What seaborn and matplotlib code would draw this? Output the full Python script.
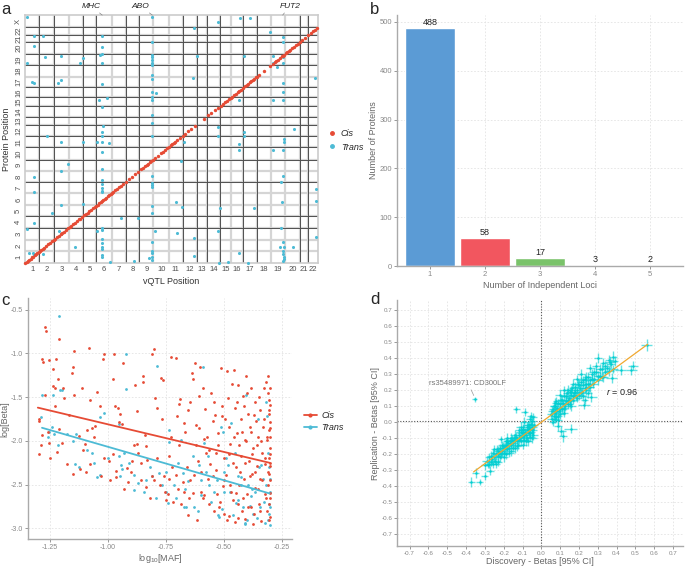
import numpy as np
import pandas as pd
import matplotlib
matplotlib.use("Agg")
from matplotlib import pyplot as plt
from matplotlib.lines import Line2D
import seaborn as sns

# ---------------- panel a: genomic positions (arbitrary genome units) ----------------
chrom_sizes = [14.3, 14.5, 15, 14.3, 13.2, 15, 14, 13.8, 14, 15.5, 13.8, 13.8, 10,
               13.3, 10.8, 12.5, 13.3, 13.8, 14.5, 14.5, 8.7, 9.6]
chrx_size = 15
x_chrom_labels = [str(i) for i in range(1, 23)]
y_chrom_labels = [str(i) for i in range(1, 23)] + ["X"]
# which internal chromosome boundaries are drawn dark (1) or only light (0)
x_dark = [1, 1, 0, 1, 1, 0, 1, 1, 0, 0, 1, 1, 1, 1, 0, 1, 1, 0, 0, 1, 1]
y_dark = [0, 0, 1, 1, 0, 0, 1, 0, 1, 1, 1, 1, 1, 1, 1, 1, 0, 1, 1, 1, 1, 1]

cis_pos = [0, 1.5, 3, 4, 5.5, 7, 8, 9.5, 11, 12, 13.5, 15, 16, 17.5, 19, 21, 23, 25, 27,
           28.5, 30, 32, 34, 36, 37, 39, 41, 43, 44.5, 46, 48, 50, 52, 54, 55, 57, 59, 61,
           62.5, 64, 66, 68, 70, 71, 72.5, 74, 75.5, 77, 78, 79.5, 81, 82.5, 84, 85.5, 87,
           88, 90, 92, 94, 96, 98, 101, 104, 107, 110, 113, 116, 118, 120, 121.5, 123, 125,
           126, 128, 130, 133, 136, 138, 140, 142, 144, 146, 147, 148.5, 150, 152, 155, 158,
           160, 163, 166, 170, 179, 183, 186, 189, 192, 195, 197, 199, 201, 203, 205, 206,
           208, 210, 212, 213, 215, 217, 219, 221, 222, 224, 225, 227, 228, 230, 231, 233,
           238, 244, 247, 249, 250, 252, 254, 256, 257, 258, 260, 261, 263, 264, 266, 268,
           270, 272, 274, 276, 279, 282, 285, 287, 289, 291]

trans_pairs = [(2, 305), (127, 305), (192, 299), (214, 304), (224, 304), (169, 291), (244, 286),
               (9, 281), (18, 281), (77, 281), (257, 280), (257, 274), (127, 274), (9, 269),
               (77, 268), (77, 259), (75, 258), (127, 258), (172, 257), (218, 257), (247, 257),
               (257, 255), (20, 255), (36, 257), (58, 254), (127, 255), (127, 252), (2, 248),
               (55, 248), (77, 248), (127, 248), (247, 248), (257, 248), (251, 243), (127, 246),
               (127, 233), (127, 228), (168, 229), (36, 227), (7, 224), (9, 223), (33, 223),
               (77, 222), (289, 229), (257, 223), (127, 212), (131, 211), (257, 212), (82, 205),
               (74, 202), (127, 206), (127, 202), (213, 202), (247, 202), (257, 202), (77, 193),
               (127, 184), (78, 170), (127, 174), (192, 169), (268, 166), (77, 162), (77, 157),
               (22, 157), (127, 157), (192, 157), (218, 162), (218, 157), (36, 150), (58, 150),
               (72, 150), (77, 150), (84, 149), (159, 150), (258, 154), (258, 150), (213, 148),
               (77, 138), (213, 140), (247, 140), (257, 140), (43, 123), (156, 126), (36, 114),
               (77, 117), (9, 107), (127, 108), (257, 108), (77, 103), (255, 100), (127, 99),
               (77, 98), (127, 97), (127, 94), (77, 93), (77, 89), (77, 88), (9, 88), (290, 92),
               (290, 77), (151, 76), (256, 76), (58, 73), (36, 72), (127, 71), (157, 69),
               (194, 68), (228, 68), (27, 62), (127, 62), (96, 56), (113, 56), (9, 50), (2, 42),
               (77, 43), (77, 41), (72, 40), (34, 40), (130, 40), (152, 37), (192, 40), (255, 43),
               (36, 36), (127, 26), (169, 31), (77, 30), (77, 25), (50, 20), (257, 26), (254, 20),
               (258, 20), (267, 20), (290, 32), (77, 20), (77, 17), (127, 15), (127, 12), (4, 12),
               (8, 12), (9, 10), (18, 11), (213, 12), (257, 15), (257, 11), (258, 7), (169, 9),
               (77, 10), (77, 7), (127, 7), (124, 6), (258, 5), (127, 4), (85, 1), (109, 2),
               (193, 0), (202, 1), (222, 0), (257, 2)]

hotspots = ["MHC", "ABO", "FUT2"]
hotspot_pos = [77, 127, 257]
hotspot_text_pos = [66, 115, 264]

# ---------------- panel b ----------------
loci = ["1", "2", "3", "4", "5"]
n_proteins = [488, 58, 17, 3, 2]
bar_colors = ["#5B9BD5", "#F2565F", "#7AC36A", "#9B5FC0", "#F7B27A"]

# ---------------- panel c: log10 MAF vs log beta ----------------
cis_c = [(-1.272, -0.70), (-1.267, -0.75), (-1.21, -0.84), (-1.286, -1.07), (-1.279, -1.10),
         (-1.253, -1.08), (-1.236, -1.18), (-1.224, -1.06), (-1.146, -0.97), (-1.084, -0.94),
         (-1.016, -1.01), (-0.975, -1.01), (-0.809, -1.01), (-0.802, -0.95), (-0.73, -1.04),
         (-0.708, -1.05), (-0.626, -1.11), (-1.236, -1.375), (-1.228, -1.39), (-1.27, -1.48),
         (-1.296, -1.77), (-1.298, -2.15), (-1.29, -2.05), (-1.286, -1.93), (-1.253, -2.02),
         (-1.25, -2.19), (-1.221, -2.13), (-1.2, -2.02), (-1.21, -1.86), (-1.192, -1.51),
         (-1.195, -1.40), (-1.218, -1.29), (-1.178, -2.265), (-1.15, -2.375), (-1.12, -2.32),
         (-1.094, -2.35), (-1.077, -2.265), (-1.091, -1.88), (-1.069, -1.85), (-1.055, -1.83),
         (-1.048, -1.44), (-1.077, -1.53), (-1.113, -1.40), (-1.146, -1.47), (-1.156, -1.22),
         (-1.151, -1.16), (-1.098, -2.04), (-1.124, -1.94), (-1.033, -1.60), (-1.022, -1.06),
         (-1.019, -2.20), (-0.997, -2.23), (-0.99, -2.45), (-0.968, -2.34), (-0.964, -2.41),
         (-0.978, -1.29), (-0.972, -1.60), (-0.958, -1.62), (-0.954, -1.78), (-0.939, -1.81),
         (-0.947, -1.69), (-0.935, -1.11), (-0.92, -2.31), (-0.915, -2.47), (-0.903, -2.36),
         (-0.896, -2.23), (-0.882, -1.36), (-0.874, -1.66), (-0.877, -2.04), (-0.871, -2.14),
         (-0.86, -2.25), (-0.848, -1.26), (-0.848, -1.33), (-0.842, -1.93), (-0.838, -2.06),
         (-0.835, -2.53), (-0.831, -2.22), (-0.809, -2.40), (-0.802, -2.45), (-0.799, -1.51),
         (-0.788, -1.62), (-0.776, -2.50), (-0.773, -1.28), (-0.762, -1.30), (-0.766, -1.75),
         (-0.756, -2.58), (-0.751, -2.67), (-0.744, -2.61), (-0.737, -2.43), (-0.737, -2.17),
         (-0.73, -1.95), (-0.723, -2.30), (-0.708, -2.39), (-0.704, -1.71), (-0.694, -1.58),
         (-0.689, -1.52), (-0.679, -2.47), (-0.672, -2.58), (-0.668, -1.90), (-0.657, -1.65),
         (-0.65, -2.65), (-0.646, -2.45), (-0.64, -1.22), (-0.636, -1.29), (-0.629, -2.39),
         (-0.621, -1.82), (-0.614, -2.23), (-0.607, -1.49), (-0.603, -1.16), (-0.60, -2.58),
         (-0.592, -2.65), (-0.588, -1.98), (-0.582, -1.64), (-0.578, -2.14), (-0.571, -2.43),
         (-0.564, -2.72), (-0.559, -2.26), (-0.549, -1.77), (-0.545, -1.56), (-0.542, -2.80),
         (-0.535, -2.14), (-0.530, -2.61), (-0.527, -1.91), (-0.52, -2.76), (-0.513, -1.17),
         (-0.51, -1.71), (-0.506, -2.52), (-0.501, -2.20), (-0.499, -2.83), (-0.491, -2.39),
         (-0.487, -1.20), (-0.484, -1.51), (-0.481, -2.86), (-0.477, -1.84), (-0.473, -2.04),
         (-0.47, -2.58), (-0.462, -2.67), (-0.458, -1.19), (-0.455, -2.93), (-0.452, -1.62),
         (-0.448, -2.30), (-0.444, -1.91), (-0.441, -2.72), (-0.438, -1.36), (-0.434, -2.50),
         (-0.429, -1.75), (-0.426, -2.17), (-0.423, -2.80), (-0.419, -1.49), (-0.415, -2.43),
         (-0.412, -1.99), (-0.409, -2.89), (-0.405, -1.26), (-0.40, -2.61), (-0.397, -1.69),
         (-0.394, -2.23), (-0.39, -1.84), (-0.386, -2.76), (-0.383, -1.40), (-0.38, -2.38),
         (-0.376, -2.08), (-0.371, -2.83), (-0.368, -1.55), (-0.366, -2.54), (-0.361, -1.77),
         (-0.357, -2.29), (-0.354, -1.95), (-0.351, -2.72), (-0.347, -1.65), (-0.344, -2.43),
         (-0.34, -2.91), (-0.337, -2.14), (-0.332, -1.84), (-0.328, -1.40), (-0.325, -2.61),
         (-0.322, -2.26), (-0.318, -1.33), (-0.315, -2.80), (-0.314, -1.99), (-0.311, -1.26),
         (-0.311, -2.50), (-0.308, -1.69), (-0.308, -2.20), (-0.306, -1.53), (-0.306, -1.88),
         (-0.305, -2.38), (-0.305, -2.72), (-0.304, -2.87), (-0.304, -2.08), (-0.304, -1.78),
         (-0.304, -1.59), (-0.304, -2.59), (-0.304, -2.29), (-0.304, -1.95),
         (-0.62, -2.05), (-0.61, -1.85), (-0.598, -2.35), (-0.59, -1.40), (-0.585, -2.62),
         (-0.575, -1.95), (-0.565, -2.10), (-0.555, -1.45), (-0.55, -2.40), (-0.54, -1.70),
         (-0.533, -2.33), (-0.525, -2.05), (-0.517, -2.70), (-0.508, -1.60), (-0.50, -2.45),
         (-0.495, -1.75), (-0.489, -2.90), (-0.48, -2.15), (-0.475, -2.50), (-0.468, -1.35),
         (-0.463, -2.25), (-0.457, -1.95), (-0.45, -2.60), (-0.446, -1.55), (-0.44, -2.88),
         (-0.435, -2.05), (-0.43, -2.35), (-0.425, -1.90), (-0.42, -2.65), (-0.415, -1.60),
         (-0.41, -2.25), (-0.405, -2.00), (-0.40, -1.45), (-0.395, -2.75), (-0.39, -2.40),
         (-0.385, -1.90), (-0.38, -2.15), (-0.375, -2.95), (-0.37, -1.70), (-0.365, -2.35),
         (-0.36, -2.05), (-0.355, -2.55), (-0.35, -1.50), (-0.345, -2.80), (-0.34, -2.00),
         (-0.335, -2.45), (-0.33, -1.75), (-0.325, -2.20), (-0.32, -2.65), (-0.316, -1.95),
         (-0.312, -2.35), (-0.31, -1.45), (-0.307, -2.90), (-0.305, -1.65), (-0.304, -2.45),
         (-0.304, -2.15), (-0.304, -1.85), (-0.304, -2.65), (-0.304, -1.40), (-0.304, -2.25),
         (-0.70, -2.55), (-0.695, -2.05), (-0.685, -2.72), (-0.675, -1.80), (-0.66, -2.30),
         (-0.655, -2.85), (-0.645, -1.55), (-0.635, -2.60), (-0.615, -2.90), (-0.72, -2.70),
         (-0.76, -2.40), (-0.79, -2.20), (-0.82, -2.65), (-0.86, -2.45), (-0.89, -2.05),
         (-0.93, -2.55), (-0.98, -2.15), (-1.03, -2.40), (-1.06, -1.95), (-1.11, -2.10),
         (-1.17, -1.70), (-1.23, -1.60), (-1.26, -1.90), (-1.30, -1.75)]

trans_c = [(-1.21, -0.57), (-1.286, -1.47), (-1.239, -1.47), (-1.208, -1.42), (-1.2, -1.42),
           (-1.29, -1.73), (-1.243, -1.84), (-1.233, -1.92), (-1.253, -1.90), (-1.214, -2.05),
           (-1.178, -1.92), (-1.137, -1.92), (-1.142, -2.26), (-1.127, -2.30), (-1.069, -2.14),
           (-1.062, -2.25), (-1.048, -2.41), (-1.036, -2.39), (-1.019, -1.68), (-1.033, -1.73),
           (-0.925, -1.01), (-0.925, -1.41), (-0.954, -1.81), (-0.954, -2.17), (-0.944, -2.28),
           (-0.939, -2.32), (-0.931, -2.14), (-0.91, -2.25), (-0.889, -2.39), (-0.889, -2.56),
           (-0.845, -2.58), (-0.838, -2.45), (-0.809, -2.40), (-0.795, -2.65), (-0.788, -1.14),
           (-0.78, -2.37), (-0.766, -2.50), (-0.751, -2.58), (-0.744, -2.71), (-0.737, -2.01),
           (-0.737, -1.88), (-0.715, -2.50), (-0.708, -2.65), (-0.686, -1.99), (-0.679, -2.37),
           (-0.673, -2.76), (-0.665, -2.75), (-0.657, -2.46), (-0.636, -2.17), (-0.629, -2.76),
           (-0.614, -2.80), (-0.607, -2.28), (-0.60, -2.45), (-0.592, -1.16), (-0.585, -2.02),
           (-0.571, -2.17), (-0.564, -2.50), (-0.542, -2.58), (-0.527, -2.85), (-0.52, -2.87),
           (-0.513, -1.84), (-0.506, -1.90), (-0.501, -2.35), (-0.499, -2.58), (-0.484, -2.28),
           (-0.473, -2.58), (-0.47, -1.80), (-0.455, -2.14), (-0.448, -2.71), (-0.441, -2.67),
           (-0.429, -2.50), (-0.426, -2.41), (-0.412, -2.94), (-0.408, -2.95), (-0.405, -1.47),
           (-0.397, -2.50), (-0.39, -2.74), (-0.383, -2.63), (-0.376, -2.83), (-0.366, -2.58),
           (-0.354, -1.75), (-0.347, -2.76), (-0.34, -2.28), (-0.332, -2.43), (-0.325, -2.94),
           (-0.318, -1.55), (-0.315, -1.71), (-0.311, -2.14), (-0.308, -2.72), (-0.306, -2.83),
           (-0.304, -2.96), (-0.304, -2.43), (-0.304, -2.58),
           (-0.60, -2.62), (-0.58, -2.35), (-0.555, -2.70), (-0.53, -2.45), (-0.51, -2.78),
           (-0.49, -2.20), (-0.46, -2.85), (-0.44, -2.40), (-0.42, -2.75), (-0.40, -2.90),
           (-0.38, -2.55), (-0.36, -2.88), (-0.35, -2.30), (-0.33, -2.70), (-0.32, -2.50),
           (-0.31, -2.90), (-0.305, -2.30), (-0.304, -2.75), (-0.67, -2.55), (-0.70, -2.25),
           (-0.75, -2.35), (-0.82, -2.30), (-0.87, -2.48), (-0.95, -2.40), (-1.0, -2.20),
           (-1.09, -2.10), (-1.15, -2.00), (-1.26, -1.95)]

cis_fit_x = [-1.303, -0.304]
cis_fit_y = [-1.62, -2.25]
trans_fit_x = [-1.285, -0.304]
trans_fit_y = [-1.85, -2.60]

# ---------------- panel d: discovery vs replication betas (beta, beta, CI half-widths) ----------------
d_points = [
    (0.559, 0.481, 0.03, 0.04), (0.479, 0.326, 0.03, 0.03), (0.422, 0.326, 0.03, 0.03),
    (0.488, 0.352, 0.025, 0.03), (0.373, 0.275, 0.03, 0.03), (0.382, 0.408, 0.02, 0.035),
    (0.364, 0.373, 0.025, 0.03), (0.227, 0.107, 0.03, 0.025), (0.266, 0.158, 0.03, 0.03),
    (0.089, 0.015, 0.02, 0.03), (0.089, -0.026, 0.02, 0.03), (0.107, -0.057, 0.025, 0.03),
    (0.116, -0.087, 0.02, 0.035), (0.156, -0.04, 0.035, 0.03), (-0.133, 0.08, 0.02, 0.02),
    (-0.089, 0.066, 0.02, 0.025), (-0.354, 0.142, 0.012, 0.015), (-0.372, -0.374, 0.02, 0.03),
    (-0.328, -0.374, 0.02, 0.02), (-0.349, -0.316, 0.02, 0.03), (-0.301, -0.333, 0.02, 0.025),
    (-0.274, -0.302, 0.02, 0.03), (-0.283, -0.267, 0.02, 0.02), (-0.257, -0.261, 0.02, 0.025),
    (-0.212, -0.108, 0.02, 0.02), (-0.186, -0.118, 0.02, 0.02),
    (-0.30, -0.27, 0.02, 0.03), (-0.29, -0.24, 0.025, 0.03), (-0.28, -0.26, 0.02, 0.025),
    (-0.27, -0.21, 0.02, 0.03), (-0.26, -0.23, 0.025, 0.03), (-0.255, -0.19, 0.02, 0.025),
    (-0.25, -0.22, 0.02, 0.03), (-0.245, -0.24, 0.025, 0.02), (-0.24, -0.20, 0.02, 0.03),
    (-0.235, -0.17, 0.02, 0.025), (-0.23, -0.21, 0.025, 0.03), (-0.225, -0.19, 0.02, 0.03),
    (-0.22, -0.16, 0.02, 0.025), (-0.215, -0.20, 0.025, 0.03), (-0.21, -0.18, 0.02, 0.03),
    (-0.205, -0.15, 0.02, 0.025), (-0.20, -0.19, 0.02, 0.03), (-0.195, -0.16, 0.025, 0.03),
    (-0.19, -0.14, 0.02, 0.025), (-0.185, -0.17, 0.02, 0.03), (-0.18, -0.15, 0.025, 0.03),
    (-0.175, -0.13, 0.02, 0.025), (-0.17, -0.16, 0.02, 0.03), (-0.165, -0.12, 0.025, 0.03),
    (-0.16, -0.14, 0.02, 0.025), (-0.155, -0.11, 0.02, 0.03), (-0.15, -0.13, 0.025, 0.03),
    (-0.145, -0.10, 0.02, 0.025), (-0.14, -0.12, 0.02, 0.03), (-0.135, -0.09, 0.025, 0.03),
    (-0.13, -0.11, 0.02, 0.025), (-0.125, -0.14, 0.02, 0.03), (-0.12, -0.08, 0.025, 0.03),
    (-0.115, -0.10, 0.02, 0.025), (-0.11, -0.12, 0.02, 0.03), (-0.105, -0.07, 0.025, 0.03),
    (-0.10, -0.09, 0.02, 0.025), (-0.095, -0.05, 0.02, 0.03), (-0.09, -0.11, 0.025, 0.03),
    (-0.085, -0.06, 0.02, 0.025), (-0.08, -0.08, 0.02, 0.03), (-0.078, -0.03, 0.025, 0.03),
    (-0.075, -0.10, 0.02, 0.025), (-0.07, -0.05, 0.02, 0.03), (-0.068, -0.02, 0.025, 0.03),
    (-0.065, -0.07, 0.02, 0.025), (-0.06, -0.04, 0.02, 0.03), (-0.058, -0.09, 0.025, 0.03),
    (-0.055, -0.01, 0.02, 0.025), (-0.052, -0.06, 0.02, 0.03), (-0.05, -0.03, 0.025, 0.03),
    (-0.048, 0.01, 0.02, 0.025), (-0.045, -0.05, 0.02, 0.03), (-0.042, -0.08, 0.025, 0.03),
    (-0.04, -0.02, 0.02, 0.025), (-0.16, -0.18, 0.02, 0.03), (-0.20, -0.22, 0.025, 0.03),
    (-0.12, -0.05, 0.02, 0.025), (-0.14, -0.16, 0.02, 0.03), (-0.09, 0.00, 0.025, 0.03),
    (-0.06, 0.02, 0.02, 0.025), (-0.07, -0.12, 0.02, 0.03), (-0.10, -0.14, 0.025, 0.03),
    (-0.23, -0.25, 0.02, 0.025), (-0.18, -0.10, 0.02, 0.03), (-0.11, -0.03, 0.025, 0.03),
    (-0.28, -0.22, 0.02, 0.03), (-0.265, -0.25, 0.025, 0.025), (-0.25, -0.17, 0.02, 0.03),
    (-0.24, -0.26, 0.02, 0.025), (-0.23, -0.18, 0.025, 0.03), (-0.22, -0.22, 0.02, 0.03),
    (-0.21, -0.14, 0.02, 0.025), (-0.20, -0.16, 0.025, 0.03), (-0.19, -0.20, 0.02, 0.03),
    (-0.18, -0.12, 0.02, 0.025), (-0.17, -0.19, 0.025, 0.03), (-0.16, -0.10, 0.02, 0.03),
    (-0.15, -0.16, 0.02, 0.025), (-0.14, -0.08, 0.025, 0.03), (-0.13, -0.15, 0.02, 0.03),
    (-0.12, -0.11, 0.02, 0.025), (-0.11, -0.06, 0.025, 0.03), (-0.10, -0.04, 0.02, 0.03),
    (-0.09, -0.08, 0.02, 0.025), (-0.08, -0.12, 0.025, 0.03), (-0.07, -0.02, 0.02, 0.03),
    (-0.06, -0.07, 0.02, 0.025), (-0.05, -0.10, 0.025, 0.03), (-0.045, 0.03, 0.02, 0.03),
    (-0.055, 0.04, 0.02, 0.025), (-0.065, -0.04, 0.025, 0.03),
    (0.05, 0.05, 0.02, 0.03), (0.055, 0.02, 0.025, 0.03), (0.06, 0.08, 0.02, 0.025),
    (0.065, 0.04, 0.02, 0.03), (0.07, 0.10, 0.025, 0.03), (0.075, 0.06, 0.02, 0.025),
    (0.08, 0.03, 0.02, 0.03), (0.085, 0.09, 0.025, 0.03), (0.09, 0.12, 0.02, 0.025),
    (0.095, 0.07, 0.02, 0.03), (0.10, 0.05, 0.025, 0.03), (0.10, 0.11, 0.02, 0.025),
    (0.105, 0.14, 0.02, 0.03), (0.11, 0.08, 0.025, 0.03), (0.115, 0.12, 0.02, 0.025),
    (0.12, 0.16, 0.02, 0.03), (0.125, 0.10, 0.025, 0.03), (0.13, 0.13, 0.02, 0.025),
    (0.135, 0.18, 0.02, 0.03), (0.14, 0.11, 0.025, 0.03), (0.145, 0.15, 0.02, 0.025),
    (0.15, 0.19, 0.02, 0.03), (0.155, 0.13, 0.025, 0.03), (0.16, 0.17, 0.02, 0.025),
    (0.165, 0.21, 0.02, 0.03), (0.17, 0.14, 0.025, 0.03), (0.175, 0.18, 0.02, 0.025),
    (0.18, 0.22, 0.02, 0.03), (0.185, 0.16, 0.025, 0.03), (0.19, 0.20, 0.02, 0.025),
    (0.195, 0.24, 0.02, 0.03), (0.20, 0.17, 0.025, 0.03), (0.205, 0.21, 0.02, 0.025),
    (0.21, 0.25, 0.02, 0.03), (0.215, 0.19, 0.025, 0.03), (0.22, 0.23, 0.02, 0.025),
    (0.23, 0.27, 0.02, 0.03), (0.235, 0.20, 0.025, 0.03), (0.24, 0.24, 0.02, 0.025),
    (0.25, 0.28, 0.02, 0.03), (0.255, 0.22, 0.025, 0.03), (0.26, 0.26, 0.02, 0.025),
    (0.27, 0.30, 0.02, 0.03), (0.275, 0.24, 0.025, 0.03), (0.28, 0.27, 0.02, 0.025),
    (0.29, 0.31, 0.02, 0.03), (0.30, 0.26, 0.025, 0.03), (0.31, 0.29, 0.02, 0.025),
    (0.32, 0.33, 0.02, 0.03), (0.33, 0.28, 0.025, 0.03), (0.34, 0.31, 0.02, 0.025),
    (0.35, 0.34, 0.02, 0.03), (0.36, 0.32, 0.025, 0.03), (0.37, 0.36, 0.02, 0.025),
    (0.12, 0.06, 0.02, 0.03), (0.14, 0.20, 0.025, 0.03), (0.08, 0.13, 0.02, 0.025),
    (0.17, 0.24, 0.02, 0.03), (0.22, 0.16, 0.025, 0.03), (0.06, 0.00, 0.02, 0.025),
    (0.25, 0.18, 0.02, 0.03), (0.10, 0.17, 0.025, 0.03), (0.29, 0.35, 0.02, 0.025),
    (0.33, 0.37, 0.02, 0.03), (0.16, 0.10, 0.025, 0.03), (0.19, 0.27, 0.02, 0.025),
    (0.065, 0.10, 0.02, 0.03),
    (0.055, 0.07, 0.02, 0.03), (0.07, 0.02, 0.025, 0.025), (0.08, 0.07, 0.02, 0.03),
    (0.09, 0.04, 0.02, 0.03), (0.10, 0.08, 0.025, 0.025), (0.11, 0.14, 0.02, 0.03),
    (0.12, 0.09, 0.02, 0.03), (0.13, 0.16, 0.025, 0.025), (0.14, 0.14, 0.02, 0.03),
    (0.15, 0.11, 0.02, 0.03), (0.16, 0.20, 0.025, 0.025), (0.17, 0.16, 0.02, 0.03),
    (0.18, 0.19, 0.02, 0.03), (0.19, 0.15, 0.025, 0.025), (0.20, 0.23, 0.02, 0.03),
    (0.21, 0.18, 0.02, 0.03), (0.22, 0.26, 0.025, 0.025), (0.23, 0.21, 0.02, 0.03),
    (0.24, 0.28, 0.02, 0.03), (0.25, 0.24, 0.025, 0.025), (0.26, 0.22, 0.02, 0.03),
    (0.27, 0.27, 0.02, 0.03), (0.28, 0.31, 0.025, 0.025), (0.30, 0.29, 0.02, 0.03),
    (0.31, 0.33, 0.02, 0.03), (0.32, 0.28, 0.025, 0.025), (0.34, 0.35, 0.02, 0.03),
    (0.36, 0.39, 0.02, 0.03), (0.38, 0.33, 0.025, 0.025), (0.39, 0.38, 0.02, 0.03),
    (0.30, 0.40, 0.02, 0.03), (0.26, 0.34, 0.025, 0.025), (0.21, 0.30, 0.02, 0.03),
    (0.23, 0.14, 0.02, 0.03), (0.12, 0.20, 0.025, 0.025), (0.075, 0.12, 0.02, 0.03)]
d_fit_x = [-0.36, 0.565]
d_fit_y = [-0.31, 0.485]

CIS_COL = "#E64B35"
TRANS_COL = "#4DBBD5"
D_COL = "#00CED1"

sns.set_theme(style="white")
plt.rcParams["font.family"] = ["Liberation Sans", "DejaVu Sans"]
plt.rcParams["mathtext.fontset"] = "custom"
plt.rcParams["mathtext.rm"] = "Liberation Sans"
plt.rcParams["mathtext.it"] = "Liberation Sans:italic"

fig = plt.figure(figsize=(6.85, 5.66), dpi=100)

# ======================= panel a =======================
ax = fig.add_axes([0.0365, 0.5353, 0.4277, 0.438])
x_edges = np.concatenate([[0], np.cumsum(chrom_sizes)])
y_edges = np.concatenate([x_edges, [x_edges[-1] + chrx_size]])
x_centers = (x_edges[:-1] + x_edges[1:]) / 2
y_centers = (y_edges[:-1] + y_edges[1:]) / 2

for b, dark in zip(x_edges[1:-1], x_dark):
    ax.axvline(b, color="#D5D5D5", lw=1.6, zorder=0)
    if dark:
        ax.axvline(b, color="#505050", lw=0.7, zorder=1)
for b, dark in zip(y_edges[1:-1], y_dark):
    ax.axhline(b, color="#D5D5D5", lw=1.6, zorder=0)
    if dark:
        ax.axhline(b, color="#505050", lw=0.7, zorder=1)

trans_df = pd.DataFrame(trans_pairs, columns=["vqtl", "protein"])
cis_df = pd.DataFrame({"vqtl": cis_pos, "protein": cis_pos})
sns.scatterplot(data=trans_df, x="vqtl", y="protein", color=TRANS_COL, s=5,
                linewidth=0, ax=ax, zorder=3, clip_on=False)
sns.scatterplot(data=cis_df, x="vqtl", y="protein", color=CIS_COL, s=6,
                linewidth=0, ax=ax, zorder=4, clip_on=False)

ax.set_xlim(0, x_edges[-1])
ax.set_ylim(0, y_edges[-1])
ax.set_xticks(x_centers)
ax.set_xticklabels(x_chrom_labels, fontsize=5.5, color="#4D4D4D")
ax.set_yticks(y_centers)
ax.set_yticklabels(y_chrom_labels, fontsize=5.5, color="#4D4D4D", rotation=90, va="center")
ax.tick_params(length=0, pad=2)
ax.set_xlabel("vQTL Position", fontsize=6.5, color="#333333", labelpad=3)
ax.set_ylabel("Protein Position", fontsize=6.5, color="#333333", labelpad=3)
for sp in ax.spines.values():
    sp.set_color("#CCCCCC")
    sp.set_linewidth(1.2)

for name, pos, tpos in zip(hotspots, hotspot_pos, hotspot_text_pos):
    ax.annotate(name, xy=(pos, 1.0), xycoords=("data", "axes fraction"),
                xytext=(tpos, 1.022), textcoords=("data", "axes fraction"),
                ha="center", va="bottom", fontsize=6, style="italic", color="#222222",
                arrowprops=dict(arrowstyle="-", color="#888888", lw=0.5,
                                shrinkA=0, shrinkB=0),
                annotation_clip=False)

handles_a = [Line2D([], [], marker="o", ls="", color=CIS_COL, markersize=2.5),
             Line2D([], [], marker="o", ls="", color=TRANS_COL, markersize=2.5)]
fig.legend(handles_a, ["Cis", "Trans"], loc="center left", bbox_to_anchor=(0.466, 0.752),
           frameon=False, prop={"size": 6.5, "style": "italic"}, handletextpad=0.5,
           labelspacing=0.5, handlelength=1.0)

# ======================= panel b =======================
ax = fig.add_axes([0.5796, 0.530, 0.4175, 0.4435])
bars_df = pd.DataFrame({"loci": loci, "n": n_proteins})
sns.barplot(data=bars_df, x="loci", y="n", hue="loci", palette=bar_colors, legend=False,
            saturation=1, edgecolor="white", linewidth=1, width=0.9, ax=ax, zorder=2)
for cont in ax.containers:
    ax.bar_label(cont, fontsize=6.5, color="#222222", padding=0.5)
ax.set_xlim(-0.6, 4.6)
ax.set_ylim(0, 514)
ax.set_yticks([0, 100, 200, 300, 400, 500])
ax.grid(True, ls=(0, (2, 2)), color="#E3E3E3", lw=0.6, zorder=0)
ax.set_axisbelow(True)
ax.tick_params(labelsize=5.5, colors="#888888", length=2, width=0.6, pad=1.5,
               bottom=True, left=True)
ax.set_xlabel("Number of Independent Loci", fontsize=6.5, color="#666666", labelpad=2)
ax.set_ylabel("Number of Proteins", fontsize=6.5, color="#666666", labelpad=1)
for side in ["top", "right"]:
    ax.spines[side].set_visible(False)
for side in ["left", "bottom"]:
    ax.spines[side].set_color("#AAAAAA")
    ax.spines[side].set_linewidth(1)

# ======================= panel c =======================
ax = fig.add_axes([0.041, 0.047, 0.3854, 0.4266])
cis_c_df = pd.DataFrame(cis_c, columns=["maf", "beta"])
trans_c_df = pd.DataFrame(trans_c, columns=["maf", "beta"])
sns.scatterplot(data=trans_c_df, x="maf", y="beta", color=TRANS_COL, s=4, linewidth=0,
                ax=ax, zorder=3)
sns.scatterplot(data=cis_c_df, x="maf", y="beta", color=CIS_COL, s=4, linewidth=0,
                ax=ax, zorder=3)
sns.lineplot(x=cis_fit_x, y=cis_fit_y, color=CIS_COL, lw=1.3, ax=ax, zorder=4)
sns.lineplot(x=trans_fit_x, y=trans_fit_y, color=TRANS_COL, lw=1.3, ax=ax, zorder=4)
ax.set_xlim(-1.345, -0.207)
ax.set_ylim(-3.125, -0.367)
ax.set_xticks([-1.25, -1.0, -0.75, -0.5, -0.25])
ax.set_xticklabels(["-1.25", "-1.00", "-0.75", "-0.50", "-0.25"])
ax.set_yticks([-3.0, -2.5, -2.0, -1.5, -1.0, -0.5])
ax.set_yticklabels(["-3.0", "-2.5", "-2.0", "-1.5", "-1.0", "-0.5"])
ax.grid(True, ls=(0, (2, 2)), color="#E3E3E3", lw=0.6, zorder=0)
ax.set_axisbelow(True)
ax.tick_params(labelsize=5, colors="#888888", length=2, width=0.6, pad=1.5,
               bottom=True, left=True)
ax.set_xlabel("log$_{10}$[MAF]", fontsize=6.5, color="#666666", labelpad=0.5)
ax.set_ylabel("log[Beta]", fontsize=6.5, color="#666666", labelpad=1)
for side in ["top", "right"]:
    ax.spines[side].set_visible(False)
for side in ["left", "bottom"]:
    ax.spines[side].set_color("#AAAAAA")
    ax.spines[side].set_linewidth(1)

handles_c = [Line2D([], [], marker="o", color=CIS_COL, markersize=2, lw=1.3),
             Line2D([], [], marker="o", color=TRANS_COL, markersize=2, lw=1.3)]
fig.legend(handles_c, ["Cis", "Trans"], loc="center left", bbox_to_anchor=(0.432, 0.255),
           frameon=False, prop={"size": 6.5, "style": "italic"}, handletextpad=0.5,
           labelspacing=0.4, handlelength=1.4)

# ======================= panel d =======================
ax = fig.add_axes([0.5796, 0.0353, 0.4175, 0.4346])
d_df = pd.DataFrame(d_points, columns=["disc", "rep", "disc_ci", "rep_ci"])
ax.axvline(0, color="#555555", ls=(0, (1, 1.5)), lw=0.8, zorder=1)
ax.axhline(0.01, color="#555555", ls=(0, (1, 1.5)), lw=0.8, zorder=1)
ax.errorbar(d_df["disc"], d_df["rep"], xerr=d_df["disc_ci"], yerr=d_df["rep_ci"],
            fmt="none", ecolor=D_COL, elinewidth=1.0, alpha=0.6, zorder=3)
sns.scatterplot(data=d_df, x="disc", y="rep", color=D_COL, s=3, linewidth=0, ax=ax, zorder=4)
sns.lineplot(x=d_fit_x, y=d_fit_y, color="#F0A830", lw=0.9, ax=ax, zorder=5)
ax.annotate("rs35489971: CD300LF", xy=(-0.356, 0.158), xytext=(-0.39, 0.222),
            ha="center", va="bottom", fontsize=5.5, color="#777777",
            arrowprops=dict(arrowstyle="-", color="#999999", lw=0.5, shrinkA=0, shrinkB=1))
ax.text(0.345, 0.19, "$\\it{r}$ = 0.96", fontsize=6.5, color="#222222", va="center")
d_ticks = [-0.7, -0.6, -0.5, -0.4, -0.3, -0.2, -0.1, 0.0, 0.1, 0.2, 0.3, 0.4, 0.5, 0.6, 0.7]
ax.set_xlim(-0.767, 0.753)
ax.set_ylim(-0.772, 0.761)
ax.set_xticks(d_ticks)
ax.set_xticklabels([f"{t:.1f}" for t in d_ticks])
ax.set_yticks(d_ticks)
ax.set_yticklabels([f"{t:.1f}" for t in d_ticks])
ax.grid(True, ls=(0, (2, 2)), color="#E3E3E3", lw=0.6, zorder=0)
ax.set_axisbelow(True)
ax.tick_params(labelsize=4.5, colors="#888888", length=2, width=0.6, pad=1.5,
               bottom=True, left=True)
ax.set_xlabel("Discovery - Betas [95% CI]", fontsize=6.5, color="#666666", labelpad=1)
ax.set_ylabel("Replication - Betas [95% CI]", fontsize=6.5, color="#666666", labelpad=1)
for side in ["top", "right"]:
    ax.spines[side].set_visible(False)
for side in ["left", "bottom"]:
    ax.spines[side].set_color("#AAAAAA")
    ax.spines[side].set_linewidth(1)

# panel letters
fig.text(0.002, 0.996, "a", fontsize=12, va="top")
fig.text(0.540, 0.996, "b", fontsize=12, va="top")
fig.text(0.002, 0.482, "c", fontsize=12, va="top")
fig.text(0.540, 0.484, "d", fontsize=12, va="top")

fig.savefig("out.png", dpi=100)
